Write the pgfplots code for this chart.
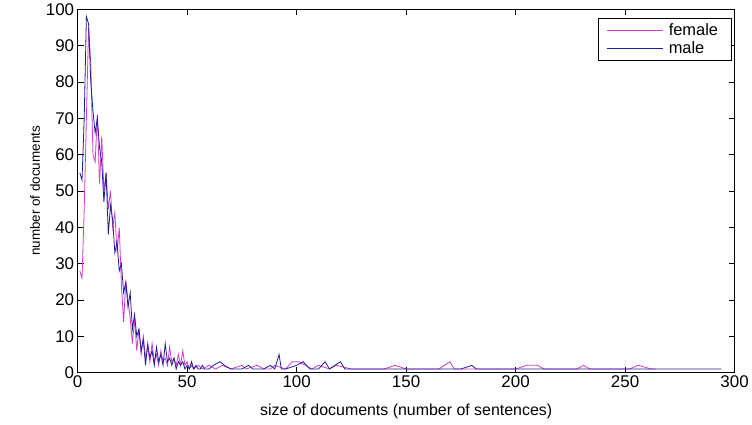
\documentclass[border=0pt]{standalone}
\usepackage{pgfplots}
\pgfplotsset{compat=1.18}
\usepackage{fontspec}
\setmainfont{Liberation Sans}
\definecolor{fem}{RGB}{205,60,205}
\definecolor{mal}{RGB}{30,30,150}
\begin{document}
\begin{tikzpicture}
\begin{axis}[name=ax, scale only axis, width=660pt, height=365pt,
  xmin=0, xmax=300, ymin=0, ymax=100,
  xtick={0,50,...,300}, ytick={0,10,...,100},
  tick align=inside, major tick length=6pt,
  axis line style={line width=0.8pt}, tick style={line width=0.8pt, black},
  ticklabel style={font=\fontsize{17}{20}\selectfont},
  /pgf/number format/assume math mode=true,
  xlabel={size of documents (number of sentences)},
  ylabel={number of documents},
  xlabel style={font=\fontsize{16}{19}\selectfont, yshift=-9pt},
  ylabel style={font=\fontsize{13.5}{16}\selectfont, yshift=-1pt},
  legend style={at={(0.995,0.975)}, anchor=north east, font=\fontsize{16.5}{19}\selectfont, draw=black, line width=0.6pt, row sep=1pt, inner xsep=8pt, inner ysep=3pt, nodes={inner xsep=5pt}},
  legend cell align=left,
  legend image code/.code={\draw[#1] (0,0) -- (57pt,0);},
]
\addplot[fem, line width=0.8pt] coordinates {
(1,28)(2,26)(3,45)(4,70)(5,95)(6,85)(7,60)(8,58)(9,71)(10,52)(11,65)(12,50)(13,55)(14,45)(15,50)(16,40)(17,44)(18,33)(19,40)(20,24)(21,14)(22,25)(23,20)(24,15)(25,8)(26,15)(27,6)(28,12)(29,5)(30,10)(31,4)(32,7)(33,3)(34,8)(35,3)(36,5)(37,2)(38,6)(39,3)(40,4)(41,2)(42,7)(43,3)(44,4)(45,2)(46,5)(47,2)(48,6)(49,2)(50,3)(51,1)(52,2)(53,1)(55,2)(57,1)(60,2)(63,1)(66,2)(70,1)(75,2)(77,1)(82,2)(85,1)(88,1)(90,2)(95,1)(98,3)(101,3)(104,2)(107,1)(110,2)(115,1)(118,2)(125,1)(140,1)(145,2)(150,1)(165,1)(170,3)(172,1)(178,1)(200,1)(205,2)(210,2)(213,1)(228,1)(231,2)(234,1)(252,1)(256,2)(262,1)(264,1)
};
\addlegendentry{female}
\addplot[mal, line width=0.8pt] coordinates {
(1,55)(2,53)(3,70)(4,98)(5,96)(6,80)(7,72)(8,66)(9,70)(10,62)(11,58)(12,47)(13,55)(14,38)(15,46)(16,42)(17,33)(18,36)(19,28)(20,30)(21,22)(22,25)(23,18)(24,22)(25,12)(26,16)(27,10)(28,12)(29,6)(30,9)(31,2)(32,8)(33,4)(34,6)(35,2)(36,7)(37,3)(38,5)(39,2)(40,8)(41,3)(42,4)(43,2)(44,4)(45,1)(46,3)(47,2)(48,3)(49,1)(50,2)(51,1)(52,3)(53,1)(54,2)(55,1)(56,1)(57,2)(58,1)(60,1)(62,2)(65,3)(67,2)(70,1)(75,1)(78,2)(80,1)(85,1)(88,2)(90,1)(92,5)(93,1)(95,1)(100,2)(103,3)(106,1)(110,1)(113,3)(115,1)(120,3)(122,1)(125,1)(130,1)(150,1)(170,1)(175,1)(180,2)(182,1)(185,1)(200,1)(250,1)(294,1)
};
\addlegendentry{male}
\end{axis}
\path (ax.south west) ++(-78pt,-52pt) rectangle ++(752pt,425pt);
\end{tikzpicture}
\end{document}
